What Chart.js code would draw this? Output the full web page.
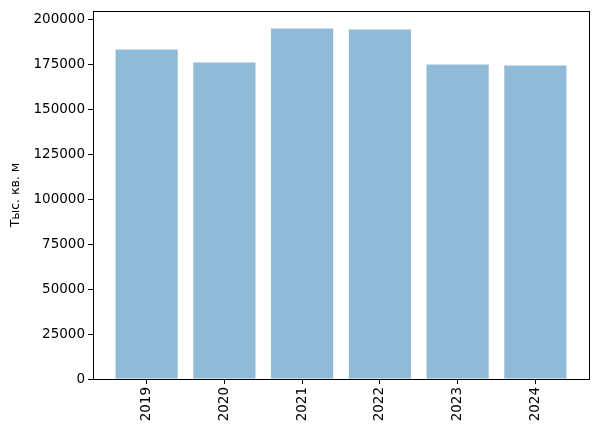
<!DOCTYPE html>
<html>
<head>
<meta charset="utf-8">
<script src="https://cdn.jsdelivr.net/npm/chart.js@4/dist/chart.umd.min.js"></script>
<style>
  html, body { margin: 0; padding: 0; background: #fff; }
  #wrap { width: 598px; height: 434px; }
</style>
</head>
<body>
<div id="wrap"><canvas id="chart" width="598" height="434"></canvas></div>
<script>
// data
const years = ['2019', '2020', '2021', '2022', '2023', '2024'];
const area = [183400, 176200, 195000, 194500, 175100, 174500];
const yTicks = [0, 25000, 50000, 75000, 100000, 125000, 150000, 175000, 200000];

// matplotlib-like margins: 5% on y, bars span -0.4..5.4 plus 5%
const yMax = Math.max(...area) * 1.05;
const xPad = (years.length - 1 + 0.8) * 0.05;

// frame around plot area
const frame = {
  id: 'frame',
  afterDraw(chart) {
    const a = chart.chartArea, ctx = chart.ctx;
    ctx.save();
    ctx.strokeStyle = '#000';
    ctx.lineWidth = 1;
    ctx.strokeRect(Math.round(a.left) + 0.5, Math.round(a.top) + 0.5,
      Math.round(a.right - a.left), Math.round(a.bottom - a.top));
    ctx.restore();
  }
};

const font = { family: 'DejaVu Sans', size: 13.5 };

new Chart(document.getElementById('chart'), {
  type: 'bar',
  data: {
    datasets: [{
      data: area.map((v, i) => ({ x: i, y: v })),
      backgroundColor: 'rgba(31, 119, 180, 0.5)',
      borderWidth: 0,
      barPercentage: 0.8,
      categoryPercentage: 1
    }]
  },
  plugins: [frame],
  options: {
    responsive: false,
    animation: false,
    layout: { padding: { top: 9, right: 9, left: 0, bottom: 0 } },
    plugins: { legend: { display: false }, tooltip: { enabled: false } },
    scales: {
      x: {
        type: 'linear',
        min: -0.4 - xPad,
        max: years.length - 1 + 0.4 + xPad,
        offset: false,
        afterBuildTicks: s => { s.ticks = years.map((_, i) => ({ value: i })); },
        afterFit: s => { s.height = 55; },
        grid: { offset: false, drawOnChartArea: false, drawTicks: true, tickLength: 5, color: '#000', tickColor: '#000' },
        border: { display: true, color: '#000' },
        ticks: {
          autoSkip: false,
          minRotation: 90,
          maxRotation: 90,
          padding: 3,
          color: '#000',
          font: font,
          callback: v => years[v]
        }
      },
      y: {
        min: 0,
        max: yMax,
        afterBuildTicks: s => { s.ticks = yTicks.map(v => ({ value: v })); },
        afterFit: s => { s.width = 93; },
        grid: { drawOnChartArea: false, drawTicks: true, tickLength: 5, color: '#000', tickColor: '#000' },
        border: { display: true, color: '#000' },
        ticks: { color: '#000', font: font, padding: 3, callback: v => String(v) },
        title: {
          display: true,
          text: 'Тыс. кв. м',
          color: '#000',
          font: { family: 'DejaVu Sans', size: 12.5 },
          padding: { top: 8, bottom: 4 }
        }
      }
    }
  }
});
</script>
</body>
</html>
